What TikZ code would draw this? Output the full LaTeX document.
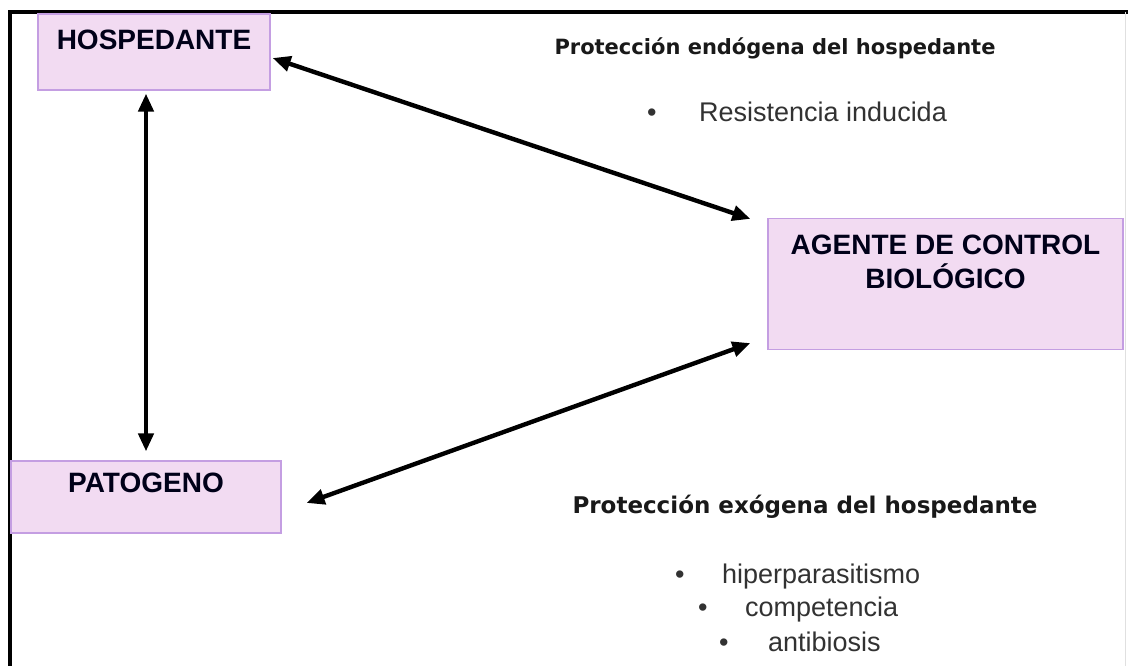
\documentclass[tikz,border=0pt]{standalone}
\usepackage{fontspec}
\setmainfont{Liberation Sans}
\newfontfamily\headfont{DejaVu Sans}
\usepackage{xcolor}
\usetikzlibrary{positioning, arrows.meta, calc}
\definecolor{boxbg}{RGB}{242,219,242}
\definecolor{boxframe}{RGB}{196,158,226}
\definecolor{itemgray}{RGB}{50,50,50}

\begin{document}
\begin{tikzpicture}[
        x=1pt, y=-1pt,
        box/.style={rectangle, fill=boxbg, draw=boxframe, line width=1.2pt, align=center, font=\fontsize{28}{34}\selectfont\bfseries, text=black!90!blue, inner sep=0pt},
        arr/.style={{Triangle[length=18pt,width=15pt]}-{Triangle[length=18pt,width=15pt]}, line width=4.4pt},
        head/.style={font=\headfont\bfseries, text=black!90},
        item/.style={anchor=west, font=\fontsize{27}{30}\selectfont, text=itemgray, inner sep=0pt}
    ]
    \useasboundingbox (0,0) rectangle (1128,666);
    \fill[white] (0,0) rectangle (1128,666);

    % frame
    \draw[line width=4pt] (10,666) -- (10,12) -- (1128,12);
    \draw[black!12, line width=1pt] (1125,12) -- (1125,666);

    % boxes
    \node[box, minimum width=232pt, minimum height=76pt] (hosp) at (154,52) {HOSPEDANTE\\[-10pt] \textnormal{}};
    \node[box, minimum width=270pt, minimum height=72pt] (pat) at (146,497) {PATOGENO\\[-6pt] \textnormal{}};
    \node[box, minimum width=355pt, minimum height=131pt] (agente) at (945.5,284) {AGENTE DE CONTROL\\ BIOL\'OGICO\\[10pt] \textnormal{}};

    % connectors
    \draw[arr, shorten <=3pt, shorten >=9pt] (hosp.south -| 146,0) -- (pat.north -| 146,0);
    \draw[arr] ([xshift=2pt,yshift=-6pt]hosp.east) -- ([xshift=-17pt,yshift=-1pt]agente.north west);
    \draw[arr] ([xshift=25pt,yshift=-6pt]pat.east) -- ([xshift=-17pt,yshift=7pt]agente.south west);

    % endogenous protection
    \node[head, font=\headfont\bfseries\fontsize{21}{24}\selectfont] (endo) at (775,48) {Protección endógena del hospedante};
    \node[item] (ind) at (647,112) {\makebox[52pt][l]{\textbullet}Resistencia inducida};

    % exogenous protection
    \node[head, font=\headfont\bfseries\fontsize{23}{26}\selectfont] (exo) at (805,507) {Protección exógena del hospedante};
    \node[item] (hip) at (675,577) {\makebox[47pt][l]{\textbullet}hiperparasitismo};
    \node[item] (comp) at (698,610) {\makebox[47pt][l]{\textbullet}competencia};
    \node[item] (anti) at (719,642) {\makebox[49pt][l]{\textbullet}antibiosis};

\end{tikzpicture}
\end{document}
